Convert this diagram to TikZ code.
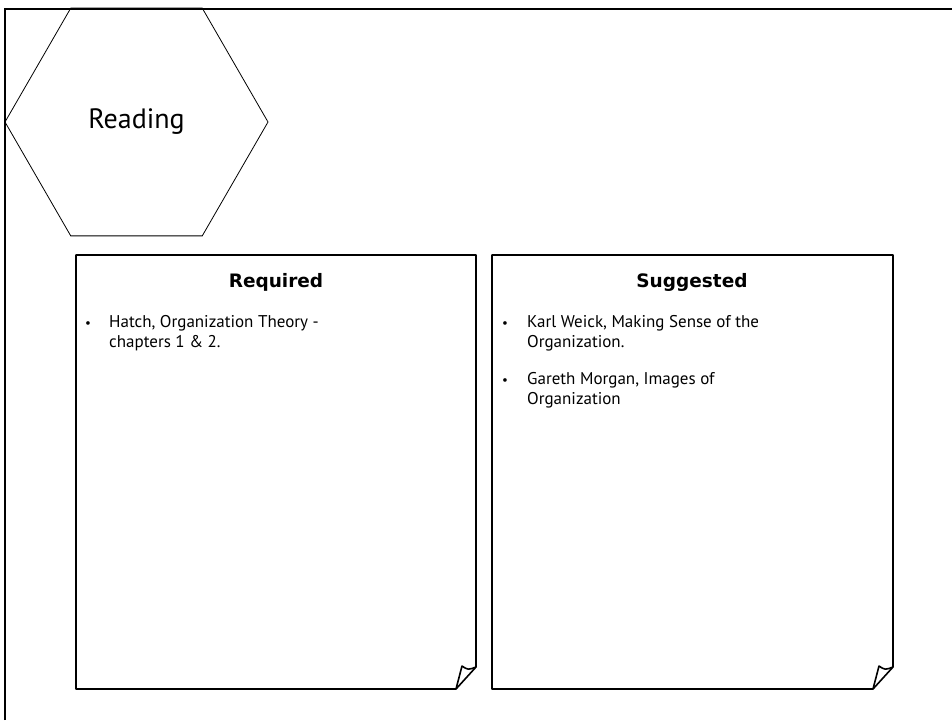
\documentclass[tikz,border=0pt]{standalone}
\usepackage{fontspec}
\setmainfont{PT Sans}
\newfontfamily\headfont{DejaVu Sans}
\usetikzlibrary{shapes.geometric,positioning}

\begin{document}
\begin{tikzpicture}[x=1pt,y=-1pt,
hexa/.style={regular polygon,regular polygon sides=6,draw,line width=0.8pt,
inner sep=0pt,minimum size=263pt,font=\fontsize{28}{30}\selectfont},
sheet/.style={line width=1.6pt,line join=round},
heading/.style={font=\headfont\bfseries\fontsize{18.5}{20}\selectfont,anchor=base,inner sep=0pt},
entry/.style={font=\fontsize{17}{20}\selectfont,anchor=base west,align=left,inner sep=0pt},
dot/.style={font=\fontsize{13}{20}\selectfont,anchor=base,inner sep=0pt}]
    \useasboundingbox (0,0) rectangle (952,720);
    \draw[line width=1.8pt] (5,720) -- (5,9) -- (952,9);
    \node[hexa] (Reading) at (136.5,122) {Reading};
    % the two sheets with a curled corner
    \foreach \l/\r in {76/476,492/893}{
        \draw[sheet] (\l,255) -- (\r,255) -- (\r,667) -- (\r-20,689) -- (\l,689) -- cycle;
        \draw[sheet] (\r-20,689) -- (\r-14,666) .. controls (\r-8,670) .. (\r,667);
    }
    \node[heading] (Required) at (276,287) {Required};
    \node[heading] (Suggested) at (692,287) {Suggested};
    % base of a two-line entry is its last line
    \node[dot] (dot a) at (88,327) {•};
    \node[entry] (Hatch) at (109,347) {Hatch, Organization Theory -\\chapters 1 \& 2.};
    \node[dot] (dot b) at (505,327) {•};
    \node[entry] (Weick) at (527,347) {Karl Weick, Making Sense of the\\Organization.};
    \node[dot] (dot c) at (505,384) {•};
    \node[entry] (Morgan) at (527,404) {Gareth Morgan, Images of\\Organization};
\end{tikzpicture}
\end{document}
